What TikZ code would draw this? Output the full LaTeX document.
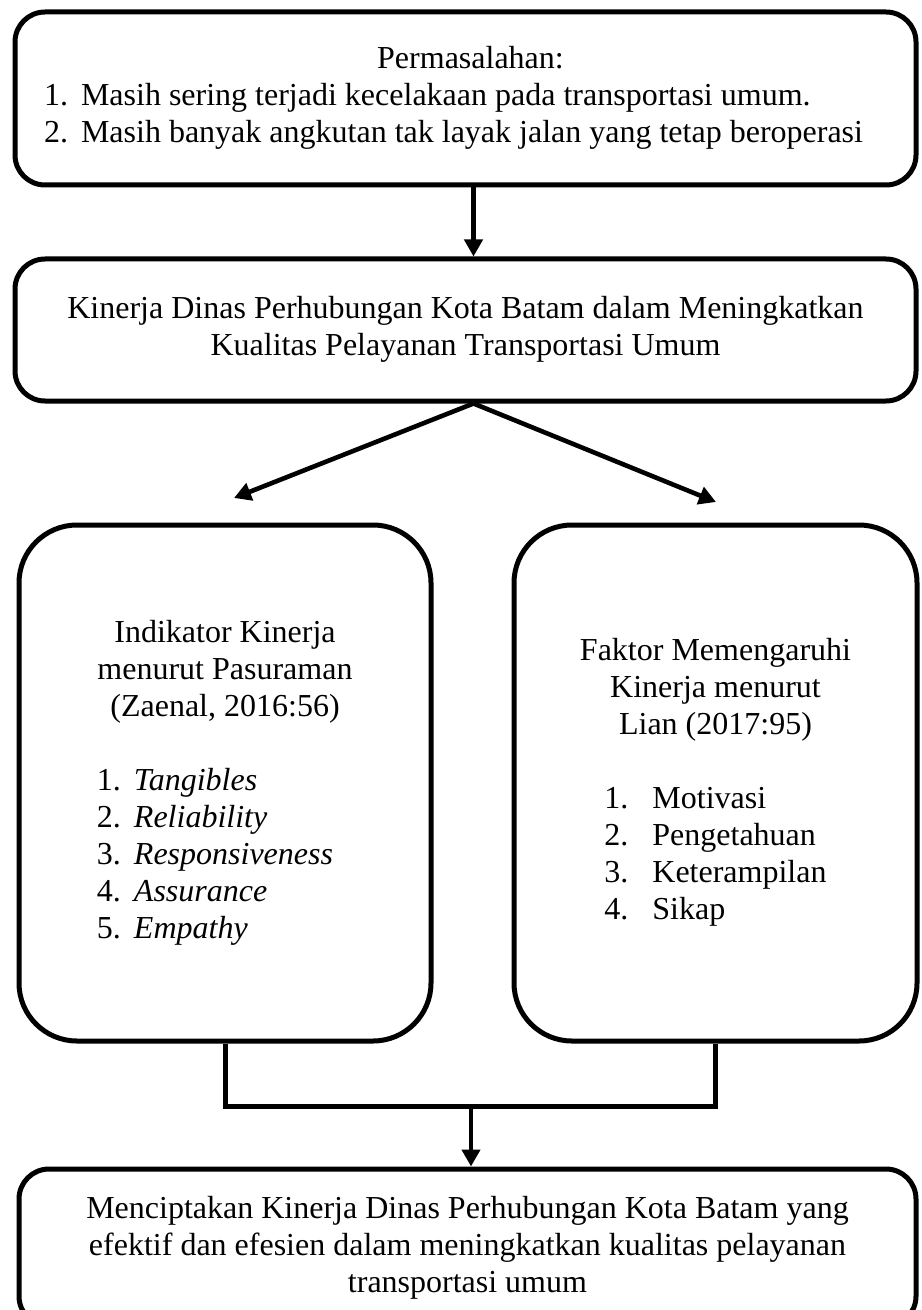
\documentclass[tikz,border=0pt]{standalone}
\usepackage{fontspec}
\setmainfont{Liberation Serif}
\usetikzlibrary{arrows.meta, calc, positioning}
\tikzset{
  kotak/.style={draw, line width=2.5pt, rounded corners=15pt, inner sep=0pt},
  kotakbesar/.style={kotak, rounded corners=29pt},
  panah/.style={line width=2.3pt, -{Triangle[length=8.5pt, width=9pt]}},
  garis/.style={line width=2.5pt}
}
\newcommand{\nomor}[2][18.5pt]{\makebox[#1][l]{#2}}

\begin{document}
\begin{tikzpicture}[x=0.5pt, y=-0.5pt, font=\fontsize{16}{18.5}\selectfont]
  \clip (0,0) rectangle (921,1310);

  % Permasalahan
  \node[kotak, minimum width=450.5pt, minimum height=86.5pt] (masalah) at (465.5,98.5)
    {\hspace{-12pt}\begin{tabular}{@{}l@{}}
      \multicolumn{1}{@{}c@{}}{\hspace{17pt}Permasalahan:}\\
      \nomor{1.}Masih sering terjadi kecelakaan pada transportasi umum.\\
      \nomor{2.}Masih banyak angkutan tak layak jalan yang tetap beroperasi
    \end{tabular}};

  % Kinerja Dinas
  \node[kotak, minimum width=450.5pt, minimum height=71pt] (kinerja) at (465.5,330)
    {\begin{tabular}{@{}c@{}}
      Kinerja Dinas Perhubungan Kota Batam dalam Meningkatkan\\
      Kualitas Pelayanan Transportasi Umum
    \end{tabular}};

  % Indikator dan faktor
  \node[kotakbesar, minimum width=206pt, minimum height=258pt] (indikator) at (225,783)
    {\begin{tabular}{@{}c@{}}
      Indikator Kinerja\\
      menurut Pasuraman\\
      (Zaenal, 2016:56)\\[18.5pt]
      \hspace{-10pt}\begin{tabular}[t]{@{}l@{}}
        \nomor{1.}\textit{Tangibles}\\
        \nomor{2.}\textit{Reliability}\\
        \nomor{3.}\textit{Responsiveness}\\
        \nomor{4.}\textit{Assurance}\\
        \nomor{5.}\textit{Empathy}
      \end{tabular}
    \end{tabular}};
  \node[kotakbesar, minimum width=201.5pt, minimum height=258pt] (faktor) at (715.5,783)
    {\begin{tabular}{@{}c@{}}
      Faktor Memengaruhi\\
      Kinerja menurut\\
      Lian (2017:95)\\[18.5pt]
      \begin{tabular}[t]{@{}l@{}}
        \nomor[24pt]{1.}Motivasi\\
        \nomor[24pt]{2.}Pengetahuan\\
        \nomor[24pt]{3.}Keterampilan\\
        \nomor[24pt]{4.}Sikap
      \end{tabular}
    \end{tabular}};

  % Hasil
  \node[kotak, minimum width=448.5pt, minimum height=78.6pt] (hasil) at (467.5,1247.6)
    {\begin{tabular}{@{}c@{}}
      Menciptakan Kinerja Dinas Perhubungan Kota Batam yang\\
      efektif dan efesien dalam meningkatkan kualitas pelayanan\\
      transportasi umum
    \end{tabular}};

  % Panah
  \coordinate (ujungkiri) at (234,498);
  \coordinate (ujungkanan) at (716,502);
  \coordinate (gabung) at (471,1106);
  \draw[panah] ([xshift=4pt]masalah.south) -- ([xshift=4pt]kinerja.north);
  \draw[panah] ([xshift=4pt]kinerja.south) -- (ujungkiri);
  \draw[panah] ([xshift=4pt]kinerja.south) -- (ujungkanan);
  \draw[garis] (indikator.south) |- (gabung) -| (faktor.south);
  \draw[panah] (gabung) -- (gabung |- hasil.north);
\end{tikzpicture}
\end{document}
